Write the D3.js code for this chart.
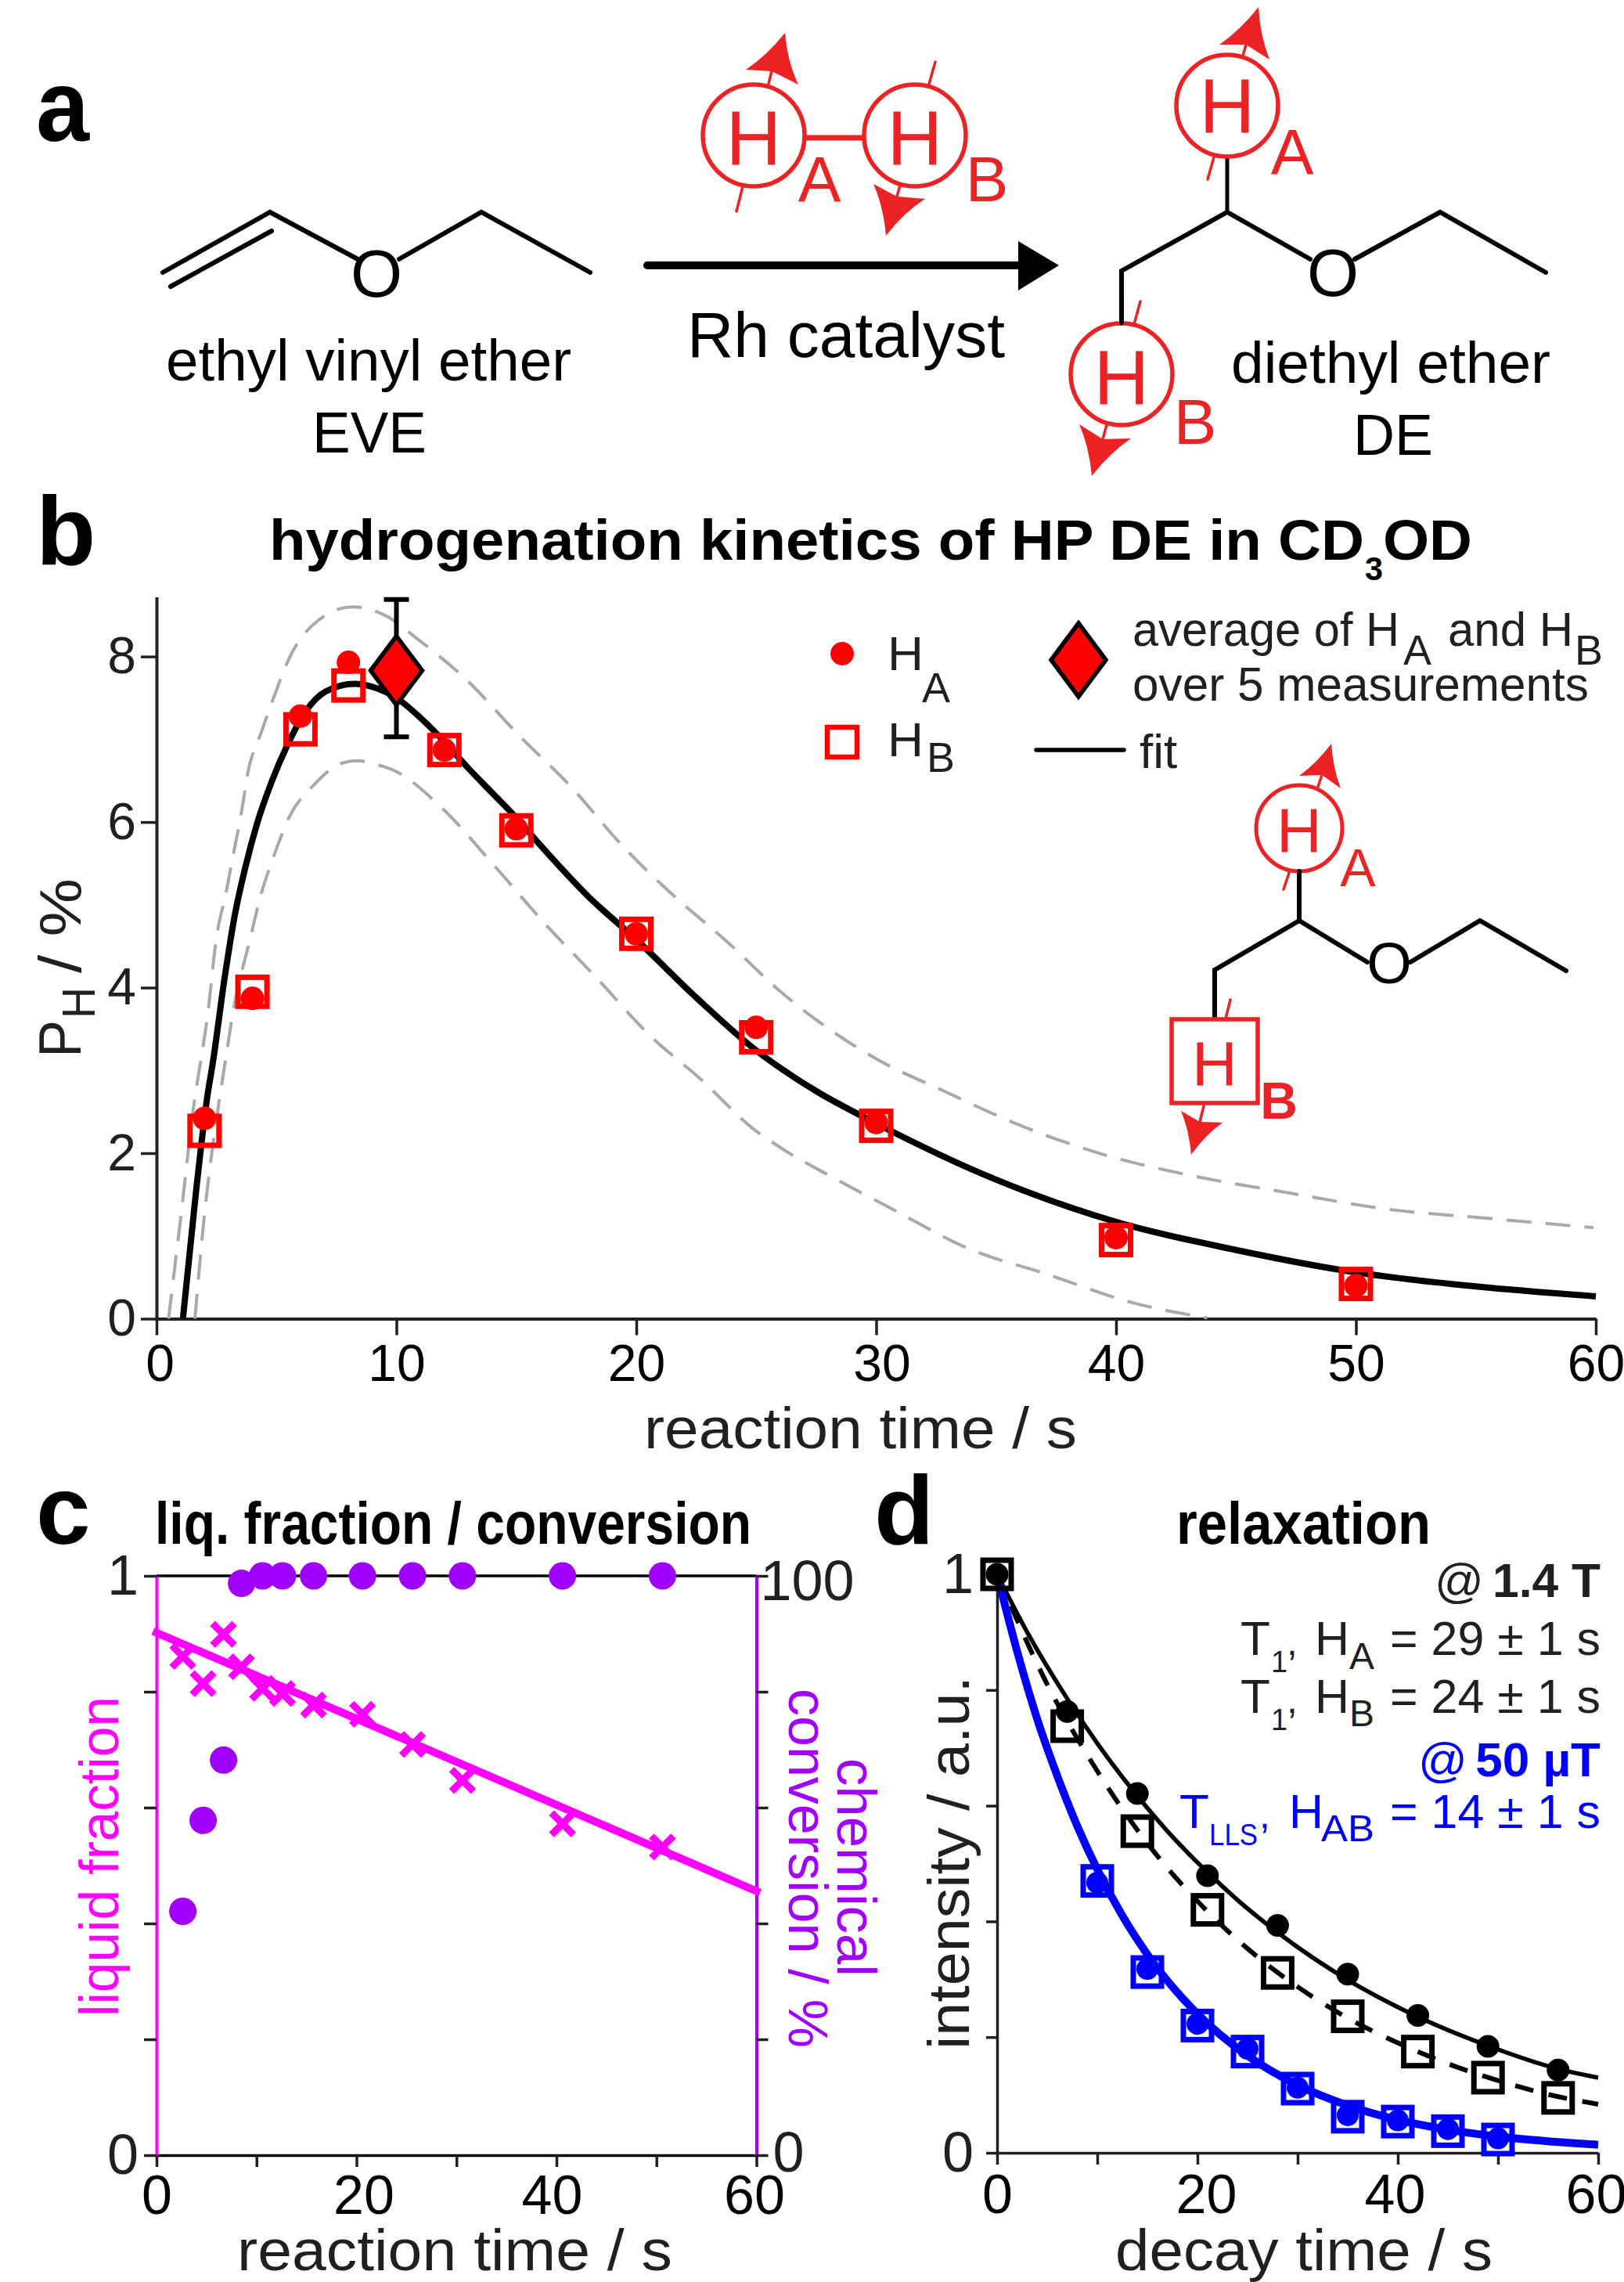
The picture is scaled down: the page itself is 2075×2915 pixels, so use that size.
<!DOCTYPE html>
<html>
<head>
<meta charset="utf-8">
<script src="https://cdn.jsdelivr.net/npm/d3@7"></script>
<style>
  html, body { margin: 0; padding: 0; background: #fff; }
  svg { display: block; }
  text { font-family: "Liberation Sans", Arial, sans-serif; }
</style>
</head>
<body>
<div class="chart"></div>
<script>
// panel b: polarisation values
var kineticsTimes = [2, 4, 6, 8, 12, 15, 20, 25, 30, 40, 50];
var kineticsHA = [2.42, 3.87, 7.28, 7.93, 6.87, 5.92, 4.65, 3.52, 2.37, 0.98, 0.40];
var kineticsHB = [2.27, 3.95, 7.12, 7.65, 6.87, 5.90, 4.65, 3.40, 2.33, 0.95, 0.42];
var averageTime = [10];
var averageValue = [7.83];
var averageLow = [7.03];
var averageHigh = [8.69];

var fitTimes = [1.1, 1.63, 2.12, 2.34, 2.85, 3.26, 3.7, 4.19, 4.79, 5.44, 6.2, 7.07, 8.27, 9.24, 10, 11, 12, 13, 14, 15, 16, 18, 20, 22.5, 25, 27.5, 30, 35, 40, 45, 50, 55, 60];
var fitValues = [0, 1.49, 2.69, 3.08, 4.14, 4.87, 5.45, 5.98, 6.48, 6.92, 7.33, 7.58, 7.67, 7.61, 7.5, 7.26, 6.97, 6.65, 6.35, 6.05, 5.72, 5.1, 4.58, 3.88, 3.24, 2.75, 2.36, 1.68, 1.17, 0.83, 0.56, 0.39, 0.27];

var upperTimes = [0.5, 0.98, 1.58, 1.85, 2.12, 2.5, 2.88, 3.21, 3.53, 3.81, 4.35, 4.89, 5.6, 6.63, 8.16, 9.57, 10.8, 12.95, 15.1, 17.3, 19.4, 21.6, 23.8, 26.1, 30, 32.9, 36.05, 39.4, 43.3, 47.2, 51.4, 55.2, 59.9];
var upperValues = [0, 1.15, 2.63, 3.13, 3.64, 4.61, 5.12, 5.62, 6.1, 6.6, 7.07, 7.51, 8.02, 8.41, 8.6, 8.49, 8.23, 7.71, 7.05, 6.42, 5.72, 5.1, 4.55, 3.93, 3.14, 2.74, 2.33, 1.99, 1.72, 1.52, 1.32, 1.22, 1.10];

var lowerTimes = [1.6, 1.96, 2.61, 2.88, 3.15, 3.92, 4.35, 4.89, 5.55, 6.53, 7.72, 8.37, 9.24, 9.92, 11.9, 14, 16.2, 18.4, 20.5, 22.7, 24.85, 26.1, 28.3, 30.7, 33.9, 37.1, 40.6, 43.8];
var lowerValues = [0, 1.15, 2.63, 3.13, 3.64, 4.61, 5.12, 5.59, 6.07, 6.44, 6.71, 6.74, 6.69, 6.62, 6.17, 5.5, 4.77, 4.1, 3.44, 2.89, 2.3, 2.05, 1.69, 1.32, 0.84, 0.54, 0.2, 0.01];

// panel c
var liquidTimes = [2.63, 4.66, 6.7, 8.5, 10.6, 12.6, 15.7, 20.6, 25.6, 30.6, 40.6, 50.6];
var liquidValues = [0.861, 0.814, 0.899, 0.843, 0.806, 0.797, 0.777, 0.761, 0.709, 0.647, 0.572, 0.532];
var conversionValues = [42.1, 57.8, 68.2, 98.7, 100, 100, 100, 100, 100, 100, 100, 100];
var liquidFitTimes = [0, 60];
var liquidFitValues = [0.902, 0.456];

// panel d
var decayTimes = [0, 7, 14, 21, 28, 35, 42, 49, 56];
var decayHA = [1, 0.763, 0.621, 0.479, 0.393, 0.309, 0.2375, 0.184, 0.143];
var decayHB = [1, 0.7375, 0.556, 0.42, 0.311, 0.236, 0.175, 0.130, 0.095];
var llsTimes = [10, 15, 20, 25, 30, 35, 40, 45, 50];
var llsCircles = [0.467, 0.318, 0.223, 0.18, 0.1125, 0.065, 0.056, 0.041, 0.025];
var llsSquares = [0.47, 0.3125, 0.22, 0.175, 0.111, 0.0625, 0.054, 0.0375, 0.023];

var decayFitATimes = [0, 3, 7, 10, 14, 17, 21, 24, 28, 35, 42, 49, 56, 60];
var decayFitAValues = [1, 0.90, 0.785, 0.708, 0.617, 0.556, 0.485, 0.437, 0.381, 0.299, 0.235, 0.185, 0.145, 0.13];
var decayFitBTimes = [0, 5, 10, 15, 20, 25, 30, 35, 40, 45, 50, 55, 60];
var decayFitBValues = [1, 0.81, 0.66, 0.535, 0.435, 0.353, 0.287, 0.233, 0.19, 0.154, 0.125, 0.101, 0.084];
var decayFitLlsTimes = [0, 2, 4, 6, 8, 10, 12.5, 15, 20, 25, 30, 35, 40, 45, 50, 55, 60];
var decayFitLlsValues = [1, 0.867, 0.75, 0.652, 0.565, 0.49, 0.41, 0.343, 0.24, 0.168, 0.117, 0.082, 0.057, 0.04, 0.028, 0.02, 0.014];

var red = "#ed2224";
var pure = "#ff0000";
var ink = "#231f20";
var magenta = "#ff00ff";
var purple = "#a100ff";
var blue = "#0000ff";

var svg = d3.select(".chart").append("svg")
  .attr("width", 2075)
  .attr("height", 2915);

// add a text; width squeezes it to the measured width in the picture
function txt(x, y, s, size, o) {
  o = o || {};
  var t = svg.append("text")
    .attr("x", x)
    .attr("y", y)
    .attr("font-size", size)
    .attr("font-weight", o.bold ? "bold" : "normal")
    .attr("fill", o.fill || ink)
    .attr("text-anchor", o.anchor || "start")
    .text(s);
  if (o.width) t.attr("textLength", o.width).attr("lengthAdjust", "spacingAndGlyphs");
  if (o.rotate) t.attr("transform", `rotate(${o.rotate} ${x} ${y})`);
  return t;
}

function bonds(points, w, color) {
  svg.append("path")
    .attr("d", d3.line()(points))
    .attr("fill", "none")
    .attr("stroke", color || "#000")
    .attr("stroke-width", w)
    .attr("stroke-linejoin", "miter")
    .attr("stroke-linecap", "round");
}

// thin nuclear spin line with its curved barb
function spin(tail, tip, left, right, notch) {
  bonds([tail, notch], 3.5, red);
  function ctrl(a) {
    var mx = (a[0] + tip[0]) / 2, my = (a[1] + tip[1]) / 2;
    return [mx + (notch[0] - mx) * 0.22, my + (notch[1] - my) * 0.22];
  }
  var c1 = ctrl(left), c2 = ctrl(right);
  svg.append("path")
    .attr("d", `M${left}Q${c1} ${tip}Q${c2} ${right}L${notch}Z`)
    .attr("fill", red);
}

function proton(cx, cy, r, baseline, size, w) {
  svg.append("circle")
    .attr("cx", cx).attr("cy", cy).attr("r", r)
    .attr("fill", "#fff").attr("stroke", red).attr("stroke-width", w);
  txt(cx, baseline, "H", size, { fill: red, anchor: "middle" });
}

function styleAxis(g, color, lineW, labelColor, size) {
  g.select(".domain").attr("stroke", color).attr("stroke-width", lineW);
  g.selectAll(".tick line").attr("stroke", ink).attr("stroke-width", 3.5);
  g.selectAll(".tick text")
    .attr("font-size", size || 66)
    .attr("font-family", "Liberation Sans")
    .attr("fill", labelColor || ink);
}

function lineOf(x, y, times, values) {
  return d3.line().curve(d3.curveMonotoneX).x(d => x(d)).y((d, i) => y(values[i]))(times);
}

function drawLine(x, y, times, values, color, w, dash) {
  return svg.append("path")
    .attr("d", lineOf(x, y, times, values))
    .attr("fill", "none")
    .attr("stroke", color)
    .attr("stroke-width", w)
    .attr("stroke-dasharray", dash || null)
    .attr("stroke-linejoin", "round");
}

function drawSquares(x, y, times, values, color, side, w) {
  svg.append("g").selectAll("rect")
    .data(times)
    .enter()
    .append("rect")
    .attr("x", d => x(d) - side / 2)
    .attr("y", (d, i) => y(values[i]) - side / 2)
    .attr("width", side)
    .attr("height", side)
    .attr("fill", "none")
    .attr("stroke", color)
    .attr("stroke-width", w);
}

function drawCircles(x, y, times, values, color, r) {
  svg.append("g").selectAll("circle")
    .data(times)
    .enter()
    .append("circle")
    .attr("cx", d => x(d))
    .attr("cy", (d, i) => y(values[i]))
    .attr("r", r)
    .attr("fill", color);
}

/* ---------- a: reaction scheme ---------- */
txt(46, 180, "a", 130, { bold: true, fill: "#000", width: 68 });

bonds([[208, 348], [345, 271], [457, 331]], 6);
bonds([[218, 366], [347, 295]], 6);
bonds([[510, 331], [615, 271], [754, 348]], 6);
txt(481, 379, "O", 85, { fill: "#000", anchor: "middle" });

bonds([[827, 339], [1310, 339]], 10);
svg.append("path").attr("d", "M1301,308L1353,339L1301,371Z").attr("fill", "#000");

txt(878, 456, "Rh catalyst", 82, { fill: "#000", width: 406 });
txt(212, 486, "ethyl vinyl ether", 75, { fill: "#000", width: 518 });
txt(399, 578, "EVE", 75, { fill: "#000", width: 146 });
txt(1573, 489, "diethyl ether", 75, { fill: "#000", width: 408 });
txt(1729, 581, "DE", 75, { fill: "#000", width: 102 });

// parahydrogen
spin([941, 270], [1003, 42], [953, 89], [1020, 108], [986, 91]);
spin([1195, 79], [1132, 301], [1116, 235], [1182, 254], [1146, 251]);
proton(963, 173, 65, 210, 98, 5.5);
proton(1169, 173, 65, 210, 98, 5.5);
bonds([[1030, 176], [1101, 176]], 7, red);
txt(1047, 257, "A", 82, { fill: red, anchor: "middle" });
txt(1261, 257, "B", 82, { fill: red, anchor: "middle" });

// product
bonds([[1433, 413], [1433, 346], [1568, 271], [1674, 331]], 6);
bonds([[1568, 271], [1568, 200]], 5);
bonds([[1731, 331], [1840, 271], [1975, 348]], 6);
txt(1703, 378, "O", 85, { fill: "#000", anchor: "middle" });
spin([1543, 229], [1608, 9], [1558, 57], [1622, 76], [1592, 57]);
proton(1568, 135, 65, 169, 98, 5.5);
txt(1651, 222, "A", 82, { fill: red, anchor: "middle" });
spin([1457, 385], [1395, 608], [1379, 542], [1445, 560], [1409, 561]);
proton(1433, 478, 65, 516, 98, 5.5);
bonds([[1433, 380], [1433, 413]], 5);
txt(1527, 567, "B", 82, { fill: red, anchor: "middle" });

/* ---------- b: kinetics ---------- */
txt(46, 721, "b", 125, { bold: true, fill: "#000" });
txt(344, 715, "hydrogenation kinetics of HP DE in CD", 72, { bold: true, fill: "#000", width: 1399 });
txt(1744, 741, "3", 42, { bold: true, fill: "#000", width: 23 });
txt(1767, 715, "OD", 72, { bold: true, fill: "#000", width: 114 });

var xB = d3.scaleLinear().domain([0, 60]).range([200, 2039]);
var yB = d3.scaleLinear().domain([0, 8.72]).range([1684.5, 762.5]);

var dxB = { 0: 4, 30: 7 };
var axisBb = svg.append("g")
  .attr("transform", "translate(0,1684.5)")
  .call(d3.axisBottom(xB).tickValues([0, 10, 20, 30, 40, 50, 60]).tickSize(21).tickSizeOuter(0).tickPadding(12));
styleAxis(axisBb, ink, 4);
axisBb.selectAll(".tick text").attr("dx", d => dxB[d] || 0).attr("fill", "#000");

var axisBl = svg.append("g")
  .attr("transform", "translate(200,0)")
  .call(d3.axisLeft(yB).tickValues([0, 2, 4, 6, 8]).tickSize(20).tickSizeOuter(0).tickPadding(6));
styleAxis(axisBl, ink, 4);

txt(823, 1850, "reaction time / s", 74, { width: 553 });
txt(103, 1351, "P", 76, { rotate: -90, width: 48 });
txt(121, 1301, "H", 60, { rotate: -90, width: 40 });
txt(103, 1243, "/ %", 76, { rotate: -90, width: 121 });

drawLine(xB, yB, upperTimes, upperValues, "#a7a9ac", 4, "32 18");
drawLine(xB, yB, lowerTimes, lowerValues, "#a7a9ac", 4, "32 18");
drawLine(xB, yB, fitTimes, fitValues, "#000", 8);

drawSquares(xB, yB, kineticsTimes, kineticsHB, pure, 37, 7);
drawCircles(xB, yB, kineticsTimes, kineticsHA, pure, 15);

// average with error bar
svg.append("g").selectAll("path")
  .data(averageTime)
  .enter()
  .append("path")
  .attr("d", (d, i) => {
    var x = xB(d), lo = yB(averageLow[i]), hi = yB(averageHigh[i]);
    return `M${x - 16},${hi}H${x + 16}M${x},${hi}V${lo}M${x - 16},${lo}H${x + 16}`;
  })
  .attr("fill", "none")
  .attr("stroke", "#000")
  .attr("stroke-width", 6);
svg.append("g").selectAll("path")
  .data(averageTime)
  .enter()
  .append("path")
  .attr("d", (d, i) => {
    var x = xB(d), y = yB(averageValue[i]);
    return `M${x},${y - 44}L${x + 33},${y}L${x},${y + 44}L${x - 33},${y}Z`;
  })
  .attr("fill", pure)
  .attr("stroke", "#000")
  .attr("stroke-width", 5.5);

// legend
svg.append("circle").attr("cx", 1076).attr("cy", 835).attr("r", 15).attr("fill", pure);
txt(1134, 856, "H", 62, { width: 46 });
txt(1178, 897, "A", 54);
svg.append("rect").attr("x", 1057).attr("y", 929).attr("width", 38).attr("height", 38)
  .attr("fill", "none").attr("stroke", pure).attr("stroke-width", 6.5);
txt(1134, 966, "H", 62, { width: 46 });
txt(1184, 986, "B", 54);
svg.append("path").attr("d", "M1378,796L1413,843L1378,890L1343,843Z")
  .attr("fill", pure).attr("stroke", "#000").attr("stroke-width", 5.5);
txt(1447, 825, "average of H", 62, { width: 341 });
txt(1793, 849, "A", 54);
txt(1850, 825, "and H", 62, { width: 160 });
txt(2012, 849, "B", 54);
txt(1447, 895, "over 5 measurements", 62, { width: 583 });
bonds([[1324, 958], [1436, 958]], 5.5);
txt(1456, 981, "fit", 62);

// inset molecule
spin([1640, 1136], [1701, 950], [1660, 991], [1713, 1007], [1689, 990]);
proton(1660, 1058, 55, 1088, 80, 5);
txt(1735, 1132, "A", 68, { fill: red, anchor: "middle" });
bonds([[1660, 1113], [1660, 1176], [1552, 1239], [1552, 1302]], 6);
bonds([[1660, 1176], [1747, 1229]], 6);
bonds([[1802, 1229], [1891, 1176], [2001, 1240]], 6);
txt(1775, 1256, "O", 74, { fill: "#000", anchor: "middle" });
spin([1572, 1277], [1522, 1475], [1509, 1419], [1562, 1434], [1533, 1433]);
svg.append("rect").attr("x", 1497).attr("y", 1302).attr("width", 110).attr("height", 107)
  .attr("fill", "#fff").attr("stroke", red).attr("stroke-width", 5.5);
txt(1552, 1386, "H", 80, { fill: red, anchor: "middle" });
txt(1634, 1429, "B", 66, { bold: true, fill: red, anchor: "middle" });

/* ---------- c: liquid fraction / conversion ---------- */
txt(46, 1972, "c", 125, { bold: true, fill: "#000" });
txt(198, 1972, "liq. fraction / conversion", 76, { bold: true, fill: "#000", width: 762 });

var xC = d3.scaleLinear().domain([0, 60]).range([200, 966.5]);
var yLiq = d3.scaleLinear().domain([0, 1]).range([2753, 2013]);
var yConv = d3.scaleLinear().domain([0, 100]).range([2753, 2013]);

svg.append("line").attr("x1", 200).attr("x2", 966.5).attr("y1", 2013).attr("y2", 2013)
  .attr("stroke", "#000").attr("stroke-width", 3.5);

var dxC = { 20: 9, 40: -6, 60: -3 };
var axisCb = svg.append("g")
  .attr("transform", "translate(0,2753)")
  .call(d3.axisBottom(xC).tickValues([0, 10, 20, 30, 40, 50, 60])
    .tickFormat(d => d % 20 === 0 ? d : "").tickSize(15).tickSizeOuter(0).tickPadding(10));
styleAxis(axisCb, "#000", 3.5, "#000", 70);
axisCb.selectAll(".tick text").attr("dx", d => dxC[d] || 0);

var axisCl = svg.append("g")
  .attr("transform", "translate(200,0)")
  .call(d3.axisLeft(yLiq).tickValues([0, 0.2, 0.4, 0.6, 0.8, 1])
    .tickFormat(d => d === 0 || d === 1 ? d : "").tickSize(16).tickSizeOuter(0).tickPadding(7));
styleAxis(axisCl, magenta, 4, ink, 72);

var axisCr = svg.append("g")
  .attr("transform", "translate(966.5,0)")
  .call(d3.axisRight(yConv).tickValues([0, 20, 40, 60, 80, 100])
    .tickFormat(d => d === 0 || d === 100 ? d : "").tickSize(15).tickSizeOuter(0).tickPadding(-10));
styleAxis(axisCr, purple, 4, ink, 72);
axisCr.selectAll(".tick text")
  .attr("dx", d => d === 0 ? 16 : 0)
  .attr("dy", d => d === 0 ? "0.28em" : "0.42em");

txt(303, 2900, "reaction time / s", 74, { width: 556 });
txt(151, 2576, "liquid fraction", 70, { fill: magenta, rotate: -90, width: 409 });
txt(1008, 2157, "conversion / %", 70, { fill: purple, rotate: 90, width: 459 });
txt(1070, 2246, "chemical", 70, { fill: purple, rotate: 90, width: 279 });

drawLine(xC, yLiq, liquidFitTimes, liquidFitValues, magenta, 10).attr("stroke-linecap", "square");
svg.append("g").selectAll("path")
  .data(liquidTimes)
  .enter()
  .append("path")
  .attr("transform", (d, i) => `translate(${xC(d)},${yLiq(liquidValues[i])})`)
  .attr("d", "M-14,-14L14,14M14,-14L-14,14")
  .attr("fill", "none")
  .attr("stroke", magenta)
  .attr("stroke-width", 9);
drawCircles(xC, yConv, liquidTimes, conversionValues, purple, 17.5);

/* ---------- d: relaxation ---------- */
txt(1117, 1972, "d", 125, { bold: true, fill: "#000" });
txt(1503, 1972, "relaxation", 76, { bold: true, fill: "#000", width: 325 });

var xD = d3.scaleLinear().domain([0, 60]).range([1274, 2042]);
var yD = d3.scaleLinear().domain([0, 1]).range([2750, 2011]);

var dxD = { 20: 11, 40: -4, 60: -3 };
var axisDb = svg.append("g")
  .attr("transform", "translate(0,2750)")
  .call(d3.axisBottom(xD).tickValues([0, 10, 20, 30, 40, 50, 60])
    .tickFormat(d => d % 20 === 0 ? d : "").tickSize(15).tickSizeOuter(0).tickPadding(12));
styleAxis(axisDb, ink, 3.5, "#000", 70);
axisDb.selectAll(".tick text").attr("dx", d => dxD[d] || 0);

var axisDl = svg.append("g")
  .attr("transform", "translate(1274,0)")
  .call(d3.axisLeft(yD).tickValues([0, 0.2, 0.4, 0.6, 0.8, 1])
    .tickFormat(d => d === 0 || d === 1 ? d : "").tickSize(14).tickSizeOuter(0).tickPadding(16));
styleAxis(axisDl, ink, 3.5, ink, 72);

txt(1425, 2900, "decay time / s", 74, { width: 482 });
txt(1238, 2618, "intensity / a.u.", 74, { rotate: -90, width: 477 });

drawLine(xD, yD, decayFitBTimes, decayFitBValues, "#000", 6, "24 20");
drawLine(xD, yD, decayFitATimes, decayFitAValues, "#000", 5.5);
drawLine(xD, yD, decayFitLlsTimes, decayFitLlsValues, blue, 10);

drawSquares(xD, yD, decayTimes, decayHB, "#000", 36, 7);
drawCircles(xD, yD, decayTimes, decayHA, "#000", 14.5);
drawSquares(xD, yD, llsTimes, llsSquares, blue, 36, 7);
drawCircles(xD, yD, llsTimes, llsCircles, blue, 14);

// annotation block
txt(1833, 2040, "@", 62);
txt(2045, 2040, "1.4 T", 62, { bold: true, anchor: "end", width: 138 });
txt(1585, 2114, "T", 62);
txt(1624, 2136, "1", 38);
txt(1644, 2114, ",", 50);
txt(1680, 2114, "H", 62, { width: 44 });
txt(1724, 2132, "A", 48);
txt(2045, 2114, "= 29 ± 1 s", 62, { anchor: "end", width: 269 });
txt(1585, 2188, "T", 62);
txt(1624, 2210, "1", 38);
txt(1644, 2188, ",", 50);
txt(1680, 2188, "H", 62, { width: 44 });
txt(1724, 2205, "B", 48);
txt(2045, 2188, "= 24 ± 1 s", 62, { anchor: "end", width: 269 });

txt(1812, 2269, "@", 62, { fill: blue });
txt(2045, 2269, "50 µT", 62, { bold: true, fill: blue, anchor: "end" });
txt(1507, 2335, "T", 62, { fill: blue });
txt(1545, 2357, "LLS", 38, { fill: blue, width: 62 });
txt(1609, 2335, ",", 50, { fill: blue });
txt(1647, 2335, "H", 62, { fill: blue, width: 44 });
txt(1688, 2352, "AB", 48, { fill: blue, width: 68 });
txt(2045, 2335, "= 14 ± 1 s", 62, { fill: blue, anchor: "end", width: 269 });
</script>
</body>
</html>
